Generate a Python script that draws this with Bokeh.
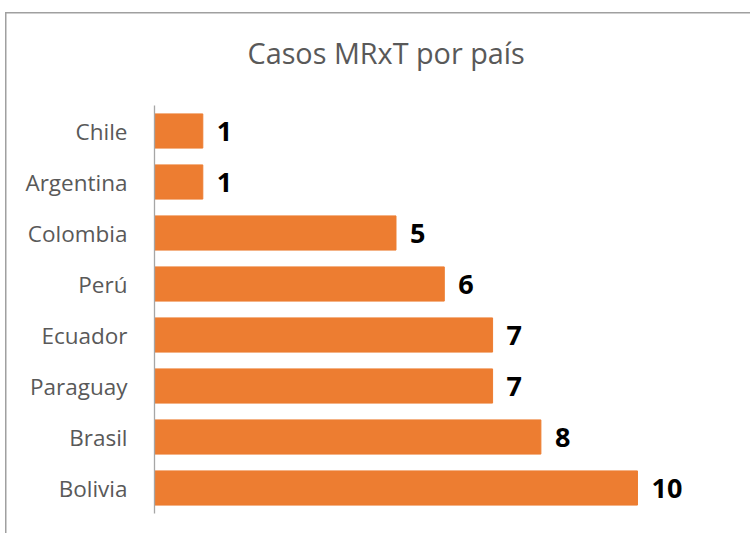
from bokeh.plotting import figure
from bokeh.models import ColumnDataSource, Range1d, FactorRange
from bokeh.core.properties import value
from bokeh.embed import file_html
from bokeh.resources import INLINE

title_text = "Casos MRxT por país"
countries = ["Chile", "Argentina", "Colombia", "Perú", "Ecuador", "Paraguay", "Brasil", "Bolivia"]
cases = [1, 1, 5, 6, 7, 7, 8, 10]

FONT = "Open Sans"
GRAY = "#595959"
BAR = "#ED7D31"

src = ColumnDataSource(dict(country=countries, cases=cases, lab=[str(v) for v in cases]))

p = figure(width=750, height=533, output_backend="svg", toolbar_location=None,
           y_range=FactorRange(*reversed(countries), range_padding=0),
           x_range=Range1d(0, 12.34), title=title_text,
           min_border_left=154, min_border_right=0, min_border_top=105, min_border_bottom=20)
p.hbar(y="country", right="cases", height=0.67, source=src, color=BAR)
p.text(x="cases", y="country", text="lab", source=src, x_offset=14,
       text_baseline="middle", text_align="left", text_font=value(FONT),
       text_font_size="27px", text_font_style="bold", text_color="black")

p.title.align = "left"
p.title.vertical_align = "top"
p.title.offset = 93
p.title.standoff = 64
p.title.text_font = FONT
p.title.text_font_size = "28.8px"
p.title.text_font_style = "normal"
p.title.text_color = GRAY

p.border_fill_color = None
p.background_fill_color = None
p.styles = {"box-shadow": "inset 5px 12px 0 0 #ffffff, inset 6.5px 13.5px 0 0 #A0A0A0"}

p.xaxis.visible = False
p.xgrid.visible = False
p.ygrid.visible = False
p.outline_line_color = None
ax = p.yaxis[0]
ax.axis_line_color = "#A6A6A6"
ax.axis_line_width = 1.3
ax.major_tick_line_color = None
ax.minor_tick_line_color = None
ax.major_label_standoff = 21
ax.major_label_text_font = FONT
ax.major_label_text_font_size = "22.5px"
ax.major_label_text_color = GRAY

open("out.html", "w").write(file_html(p, INLINE))
